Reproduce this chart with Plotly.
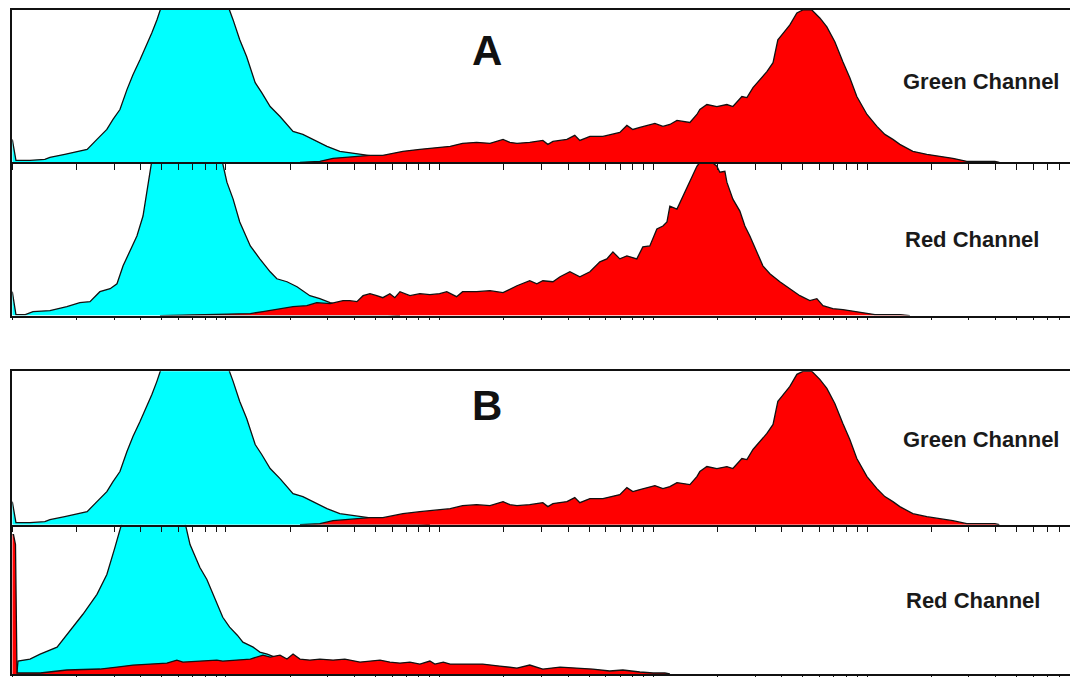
import plotly.graph_objects as go

# ---------------- data (fluorescence intensity, log scale; counts) ----------------
# Green channel (same histograms in panels A and B)
green_cyan_x = [1.00, 1.02, 1.04, 1.05, 1.21, 1.42, 1.50, 1.76, 2.03, 2.24, 2.49, 2.77, 2.96, 3.19,
                3.44, 3.67, 3.96, 4.27, 4.50, 4.75, 4.96, 5.77, 7.16, 8.88, 10.3, 10.8, 11.6, 12.5,
                13.7, 14.7, 16.1, 17.9, 20.6, 22.9, 25.5, 29.7, 34.1, 39.3, 47.2, 58.5, 72.6, 90.0]
green_cyan_y = [23, 12, 2, 2, 2, 3, 5, 8, 11, 13, 23, 33, 43, 53,
                73, 88, 103, 118, 130, 143, 155, 185, 195, 180, 155, 143, 123, 106,
                80, 70, 56, 46, 31, 28, 23, 16, 11, 9, 7, 4, 2, 0]

green_red_x = [22.2, 27.5, 31.7, 36.0, 41.4, 47.2, 54.2, 60.4, 67.3, 80.8, 93.0, 112, 128, 149, 172,
               198, 213, 230, 264, 304, 321, 339, 394, 429, 453, 505, 581, 647, 697, 752,
               802, 865, 1017, 1109, 1195, 1290, 1483, 1599, 1651, 1781, 1983, 2209, 2357, 2597, 2741,
               2927, 3153, 3400, 3633, 3826, 3995, 4355, 4697, 5010, 5519, 6015, 6488, 7070, 7710, 8310,
               8960, 10000, 11130, 12120, 13220, 14250, 16390, 19060, 21920, 25220, 29330, 33730, 39660, 41600]
green_red_y = [0, 1, 4, 5, 6, 7, 7, 9, 11, 13, 14, 16, 19, 20, 19,
               23, 20, 19, 20, 22, 18, 21, 23, 27, 22, 26, 26, 28, 30, 37,
               33, 35, 39, 36, 38, 42, 40, 48, 53, 58, 56, 58, 56, 66, 65,
               75, 83, 91, 100, 123, 128, 138, 150, 153, 153, 145, 136, 121, 101, 85,
               66, 48, 36, 28, 23, 18, 11, 8, 6, 4, 1, 1, 1, 0]

# Red channel, panel A
redA_cyan_x = [1.00, 1.02, 1.04, 1.05, 1.15, 1.25, 1.50, 1.80, 2.07, 2.31, 2.57, 2.87, 3.09, 3.30, 3.55,
               3.83, 4.09, 4.27, 4.40, 4.50, 5.47, 6.79, 8.41, 9.58, 10.1, 10.8, 11.6, 13.0, 14.4, 16.1,
               17.3, 19.3, 21.5, 24.7, 27.5, 30.7, 36.0, 42.4, 52.6, 65.2]
redA_cyan_y = [24, 12, 1, 1, 1, 4, 5, 9, 13, 14, 24, 27, 32, 50, 65,
               80, 100, 124, 144, 156, 185, 195, 180, 156, 134, 117, 94, 70, 57, 44,
               37, 34, 29, 20, 17, 13, 9, 5, 2, 0]

redA_red_x = [4.91, 7.55, 13.0, 14.9, 17.9, 20.6, 23.9, 26.6, 30.7, 35.3, 38.0, 41.0, 43.8, 47.2, 50.8,
              54.2, 58.5, 61.7, 65.2, 72.6, 80.8, 90.0, 100, 108, 120, 128, 149, 172, 198, 230,
              264, 285, 304, 339, 366, 407, 453, 505, 562, 606, 647, 697, 752, 837, 893,
              963, 1039, 1109, 1158, 1195, 1290, 1375, 1483, 1599, 1651, 1800, 1880, 1983, 2048, 2162,
              2209, 2357, 2541, 2682, 2830, 3053, 3256, 3511, 3910, 4355, 4850, 5400, 5825, 6220, 6920,
              7710, 8960, 10000, 10890, 14250, 15870]
redA_red_y = [0, 1, 2, 4, 7, 9, 10, 13, 12, 15, 15, 14, 20, 22, 20,
              18, 22, 18, 24, 20, 22, 21, 22, 24, 19, 24, 24, 25, 23, 30,
              35, 32, 35, 34, 39, 44, 39, 44, 54, 57, 64, 57, 60, 57, 69,
              70, 87, 90, 94, 110, 107, 120, 134, 150, 154, 156, 154, 150, 144, 145,
              134, 117, 105, 90, 80, 64, 50, 42, 34, 27, 20, 15, 17, 10, 7,
              6, 4, 2, 1, 1, 0]

# Red channel, panel B
redB_cyan_x = [1.05, 1.063, 1.21, 1.35, 1.62, 1.86, 2.14, 2.49, 2.77, 3.02, 3.19, 3.26, 3.75, 4.50, 5.47,
               6.43, 6.79, 7.55, 8.14, 8.71, 9.15, 9.66, 10.4, 11.3, 12.0, 13.4, 14.4, 15.6, 17.9, 22.2,
               27.5, 34.1]
redB_cyan_y = [0, 13, 15, 20, 27, 44, 60, 80, 100, 127, 147, 152, 175, 185, 172,
               152, 130, 107, 95, 80, 70, 57, 47, 39, 32, 27, 22, 20, 15, 7,
               2, 0]

redB_red_x = [1.00, 1.013, 1.035, 1.052, 1.086, 1.35, 1.80, 2.57, 3.09, 3.67, 4.41, 5.29, 5.89, 6.29, 7.55,
              9.06, 9.66, 10.8, 13.0, 14.9, 16.1, 17.9, 19.3, 20.6, 22.2, 24.7, 27.5, 31.7, 36.0, 42.4,
              47.2, 52.6, 58.5, 65.2, 72.6, 80.8, 90.0, 95.0, 104, 112, 134, 159, 191, 230, 264,
              304, 366, 439, 521, 625, 720, 865, 998, 1133, 1195]
redB_red_y = [140, 140, 130, 1, 1, 1, 4, 5, 7, 9, 10, 11, 14, 12, 13,
              14, 13, 14, 15, 19, 17, 19, 15, 20, 15, 14, 15, 14, 15, 12,
              13, 14, 12, 11, 12, 10, 13, 10, 12, 10, 10, 10, 8, 6, 9,
              5, 7, 6, 5, 3, 4, 2, 1, 1, 0]

panel_letters = ["A", "B"]
channel_labels = ["Green Channel", "Red Channel"]

# ---------------- styling ----------------
W, H = 1070, 677
CYAN = "#00FFFF"
RED = "#FF0000"
EDGE = "#111111"
FONT = "Liberation Sans, Arial, sans-serif"

def pyf(p):
    return (H - p) / H

x_dom = [12.3 / W, 1.0]
tickvals = [m * 10 ** k for k in range(0, 5) for m in range(1, 10)]

# axis index: (top px, bottom px, ymax, ticklen, mirror, cyan, red)
panels = {
    1: (163, 317, 154, 3, False, (redA_cyan_x, redA_cyan_y), (redA_red_x, redA_red_y)),
    2: (10, 163, 153, 6, True, (green_cyan_x, green_cyan_y), (green_red_x, green_red_y)),
    3: (527, 677, 150, 3, False, (redB_cyan_x, redB_cyan_y), (redB_red_x, redB_red_y)),
    4: (373, 527, 153, 6, True, (green_cyan_x, green_cyan_y), (green_red_x, green_red_y)),
}

fig = go.Figure()
layout = {}
for i, (top, bot, ymax, tl, mir, cyan, red) in panels.items():
    sx = "" if i == 1 else str(i)
    for (xs, ys), col in ((cyan, CYAN), (red, RED)):
        fig.add_trace(go.Scatter(
            x=xs, y=ys, xaxis="x" + sx, yaxis="y" + sx, mode="lines",
            fill="tozeroy", fillcolor=col,
            line=dict(color=EDGE, width=1.3), hoverinfo="skip", showlegend=False))
    layout["xaxis" + sx] = dict(
        type="log", range=[0, 4.95], domain=x_dom, anchor="y" + sx,
        showline=True, linecolor=EDGE, linewidth=1.5, mirror=mir,
        ticks="outside", tickvals=tickvals, ticklen=tl, tickwidth=1, tickcolor=EDGE,
        showticklabels=False, showgrid=False, zeroline=False, fixedrange=True)
    layout["yaxis" + sx] = dict(
        range=[0, ymax], domain=[pyf(bot), pyf(top)], anchor="x" + sx,
        showline=True, linecolor=EDGE, linewidth=1.5, ticks="",
        showticklabels=False, showgrid=False, zeroline=False, fixedrange=True)

annotations = []
for letter, yl in zip(panel_letters, [51, 407]):
    annotations.append(dict(text="<b>%s</b>" % letter, x=487 / W, y=pyf(yl), xref="paper", yref="paper",
                            xanchor="center", yanchor="middle", showarrow=False,
                            font=dict(family=FONT, size=42, color="#111111")))
for (lbl, xc, yc) in [(channel_labels[0], 981, 81.5), (channel_labels[1], 972, 240.5),
                      (channel_labels[0], 981, 441), (channel_labels[1], 973, 603.5)]:
    annotations.append(dict(text="<b>%s</b>" % lbl, x=xc / W, y=pyf(yc), xref="paper", yref="paper",
                            xanchor="center", yanchor="middle", showarrow=False,
                            font=dict(family=FONT, size=22, color="#1a1a1a")))

fig.update_layout(
    width=W, height=H, margin=dict(l=0, r=0, t=0, b=0),
    paper_bgcolor="white", plot_bgcolor="rgba(0,0,0,0)",
    annotations=annotations, showlegend=False, **layout)

fig.write_html("out.html", config={"displayModeBar": False},
               post_script="document.body.style.margin='0px';document.body.style.padding='0px';")
